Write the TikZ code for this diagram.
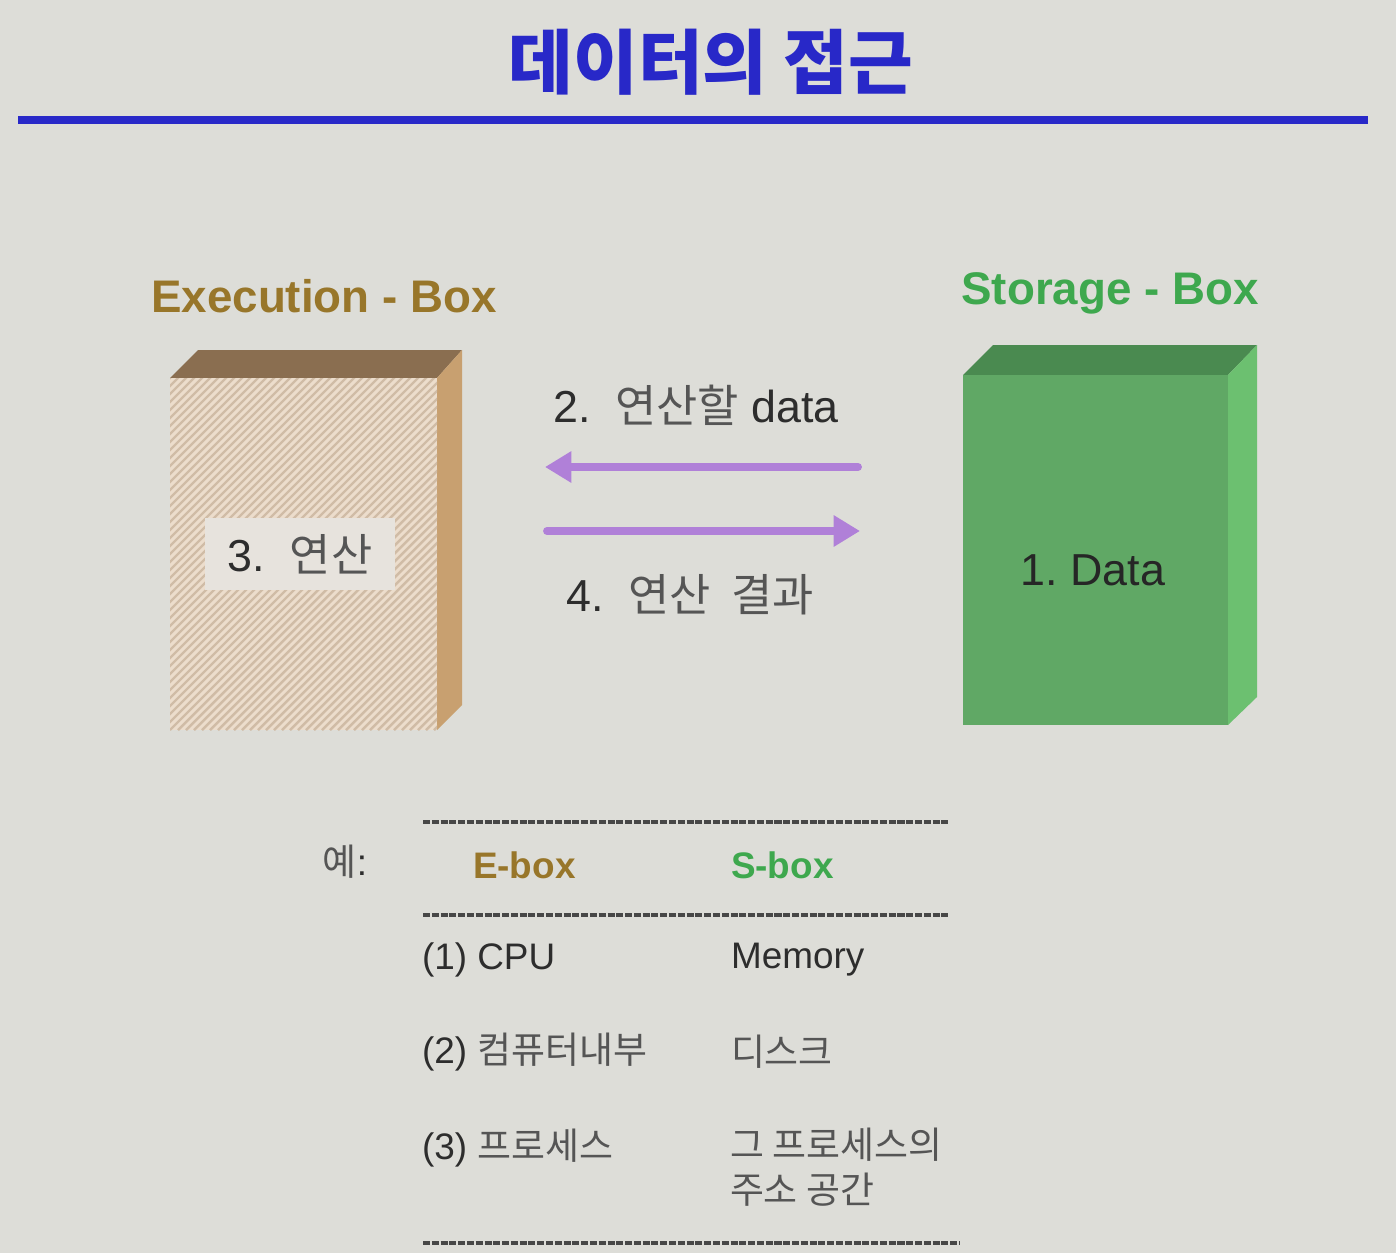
\documentclass[tikz,border=0pt]{standalone}
\usepackage{fontspec}
\setmainfont{Liberation Sans}
\newfontfamily\kr{Noto Sans CJK KR}
\usetikzlibrary{arrows.meta}
\frenchspacing
\definecolor{slide_bg}{RGB}{221,221,216}
\definecolor{title_blue}{RGB}{40,40,200}
\definecolor{ebox_text}{RGB}{152,118,42}
\definecolor{sbox_text}{RGB}{62,168,78}
\definecolor{ebox_front}{RGB}{236,221,204}
\definecolor{ebox_hatch}{RGB}{208,188,166}
\definecolor{ebox_top}{RGB}{138,110,80}
\definecolor{ebox_side}{RGB}{200,160,112}
\definecolor{ebox_label}{RGB}{231,227,221}
\definecolor{sbox_front}{RGB}{96,168,101}
\definecolor{sbox_top}{RGB}{74,138,80}
\definecolor{sbox_side}{RGB}{108,192,112}
\definecolor{flow_purple}{RGB}{176,128,216}
\definecolor{ink_dark}{RGB}{45,45,45}
\definecolor{ink_gray}{RGB}{85,85,85}
\newcommand{\hg}[1]{{\kr\color{ink_gray}#1}}
\begin{document}
\begin{tikzpicture}[x=0.2mm,y=-0.2mm,inner sep=0pt,outer sep=0pt]
	\tikzstyle{label_style} = [font=\fontsize{25.5}{30}\selectfont, text=ink_dark]
	\tikzstyle{head_style} = [font=\fontsize{26}{30}\selectfont\bfseries]
	\tikzstyle{row_style} = [font=\fontsize{21}{26}\selectfont, text=ink_dark, anchor=west, align=left]
	\tikzstyle{flow_style} = [draw=flow_purple, line width=4.5pt, line cap=round, -{Triangle[length=15pt,width=17pt]}]
	\tikzstyle{rule_style} = [draw=black!72, line width=2.6pt, dash pattern=on 4pt off 1pt]
	\useasboundingbox[fill=slide_bg] (0,0) rectangle (1396,1253);
	%%% title
	\node[font=\fontsize{40}{46}\selectfont\kr\bfseries, text=title_blue] (title) at (711,62) {데이터의 접근};
	\draw[title_blue, line width=4pt] (18,120) -- (1368,120);
	%%% execution box
	\node[head_style, text=ebox_text] (E-head) at (324,296) {Execution - Box};
	\fill[ebox_top] (170,378) -- (198,350) -- (462,350) -- (437,378) -- cycle;
	\fill[ebox_side] (437,378) -- (462,350) -- (462,705) -- (437,730) -- cycle;
	\fill[ebox_front] (170,378) rectangle (437,730);
	\begin{scope}
		\clip (170,378) rectangle (437,730);
		\foreach \d in {0,8,...,640}
			\draw[ebox_hatch, line width=1.4pt] (170+\d-360,730) -- (170+\d,370);
	\end{scope}
	\node[label_style, fill=ebox_label, minimum width=38mm, minimum height=14.4mm] (E-op) at (300,554) {3.\ \ \hg{연산}};
	%%% storage box
	\node[head_style, text=sbox_text] (S-head) at (1110,293) {Storage - Box};
	\fill[sbox_top] (963,375) -- (993,345) -- (1257,345) -- (1228,375) -- cycle;
	\fill[sbox_side] (1228,375) -- (1257,345) -- (1257,697) -- (1228,725) -- cycle;
	\fill[sbox_front] (963,375) rectangle (1228,725);
	\node[label_style, text=black!85] (S-data) at (1093,570) {1. Data};
	%%% data flow
	\node[label_style] (F-1) at (696,405) {2.\ \ \hg{연산할} data};
	\node[label_style] (F-2) at (690,595) {4.\ \ \hg{연산\ \ 결과}};
	\coordinate (in-tail) at (858,467);
	\coordinate (in-tip) at (545,467);
	\coordinate (out-tail) at (547,531);
	\coordinate (out-tip) at (860,531);
	\draw[flow_style] (in-tail) -- (in-tip);
	\draw[flow_style] (out-tail) -- (out-tip);
	%%% examples
	\draw[rule_style] (423,822) -- (948,822);
	\draw[rule_style] (423,915) -- (948,915);
	\draw[rule_style] (423,1243) -- (960,1243);
	\node[row_style, anchor=center] (ex) at (345,862) {\hg{예}:};
	\node[row_style, font=\fontsize{21}{26}\selectfont\bfseries, text=ebox_text] (ex-E) at (473,865) {E-box};
	\node[row_style, font=\fontsize{21}{26}\selectfont\bfseries, text=sbox_text] (ex-S) at (731,865) {S-box};
	\foreach[count=\i] \e/\s/\y in {CPU/Memory/960, \hg{컴퓨터내부}/\hg{디스크}/1052}{
		\node[row_style] (E-\i) at (422,\y) {(\i) \e};
		\node[row_style] (S-\i) at (731,\y) {\s};
	}
	\node[row_style] (E-3) at (422,1148) {(3) \hg{프로세스}};
	\node[row_style, anchor=north west, font=\fontsize{21}{25.6}\selectfont] (S-3) at (730,1128) {\hg{그 프로세스의}\\\hg{주소 공간}};
\end{tikzpicture}
\end{document}
